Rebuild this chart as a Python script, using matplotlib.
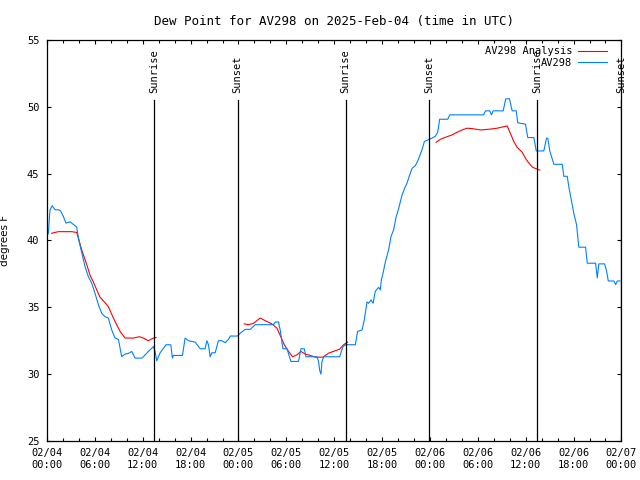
import numpy as np
import matplotlib
matplotlib.use("Agg")
import matplotlib.pyplot as plt

# hours since 2025-02-04 00:00 UTC
obs_hours = [0.16, 0.38, 0.66, 1.0, 1.42, 1.72, 2.05, 2.38, 2.89, 3.3, 3.73, 3.93, 4.35, 4.77,
             5.18, 5.61, 6.02, 6.44, 6.86, 7.28, 7.69, 8.12, 8.53, 8.95, 9.37, 9.79, 10.2, 10.63,
             11.04, 11.88, 12.08, 12.71, 13.34, 13.55, 13.76, 14.18, 14.93, 15.52, 15.72, 15.85,
             16.98, 17.31, 17.73, 18.57, 19.2, 19.82, 20.04, 20.24, 20.45, 20.66, 21.08, 21.49,
             21.92, 22.33, 22.75, 22.96, 23.88, 24.22, 24.84, 25.47, 26.1, 28.39, 28.61, 29.02,
             29.23, 29.57, 30.08, 30.58, 31.53, 31.83, 32.25, 32.46, 33.84, 34.04, 34.17, 34.34,
             34.47, 34.67, 36.68, 37.1, 37.39, 38.65, 38.93, 39.49, 39.77, 40.11, 40.31, 40.61,
             40.87, 41.15, 41.57, 41.78, 41.91, 42.12, 42.41, 42.82, 43.12, 43.45, 43.75, 44.08,
             44.5, 44.83, 45.13, 45.46, 45.76, 46.17, 46.51, 47.01, 47.3, 47.64, 48.06, 48.68,
             48.97, 49.22, 50.23, 50.48, 54.74, 54.96, 55.49, 55.71, 55.92, 57.18, 57.5, 57.97,
             58.3, 58.81, 59.01, 59.97, 60.26, 61.02, 61.32, 62.27, 62.61, 62.77, 63.02, 63.53,
             64.58, 64.78, 65.21, 65.41, 65.83, 66.04, 66.37, 66.66, 67.5, 67.72, 68.76, 68.97,
             69.17, 69.89, 70.14, 70.35, 71.05, 71.27, 71.48, 71.81]
obs_dewpt = [40.5, 42.3, 42.6, 42.3, 42.3, 42.2, 41.8, 41.3, 41.4, 41.2, 41.0, 40.2, 39.1, 38.05,
             37.3, 36.8, 36.05, 35.2, 34.55, 34.3, 34.2, 33.3, 32.7, 32.6, 31.3, 31.5, 31.55, 31.7,
             31.2, 31.2, 31.3, 31.7, 32.06, 31.7, 31.0, 31.6, 32.2, 32.2, 31.2, 31.4,
             31.4, 32.7, 32.5, 32.4, 31.9, 31.9, 32.5, 32.2, 31.3, 31.6, 31.6, 32.5,
             32.5, 32.35, 32.6, 32.85, 32.85, 33.06, 33.35, 33.35, 33.7, 33.7, 33.9, 33.9,
             33.3, 31.9, 31.9, 30.95, 30.95, 31.9, 31.9, 31.3, 31.3, 30.95, 30.3, 30.0,
             30.95, 31.3, 31.3, 32.06, 32.2, 32.2, 33.2, 33.3, 34.06, 35.4, 35.3, 35.55,
             35.3, 36.2, 36.5, 36.3, 37.05, 37.55, 38.4, 39.3, 40.3, 40.8, 41.74, 42.4,
             43.4, 43.9, 44.3, 44.9, 45.4, 45.6, 46.0, 46.8, 47.4, 47.5, 47.6, 47.8,
             48.1, 49.07, 49.07, 49.4, 49.4, 49.7, 49.7, 49.4, 49.7, 49.7, 50.6, 50.6,
             49.7, 49.7, 48.8, 48.7, 47.7, 47.7, 46.7, 46.7, 47.65, 47.65, 46.7, 45.7,
             45.7, 44.8, 44.8, 44.0, 42.66, 42.0, 41.2, 39.5, 39.5, 38.3, 38.3, 37.2,
             38.25, 38.25, 37.7, 36.97, 36.97, 36.7, 36.97, 36.97]

# analysis (nan = no analysis during night)
ana_hours = [0.59, 1.42, 3.1, 3.73, 3.93, 4.35, 4.98, 5.4, 5.81, 6.24, 6.65, 7.28, 7.69, 8.32,
             9.16, 9.79, 10.83, 11.58, 12.08, 12.71, 13.34, 13.68, 19.0,
             24.72, 25.26, 25.88, 26.73, 27.35, 28.19, 28.82, 29.23, 29.74, 30.28, 30.78, 31.33,
             31.83, 32.37, 33.0, 33.63, 34.59, 35.3, 35.92, 36.68, 37.18, 37.68, 43.0,
             48.77, 49.31, 49.94, 50.78, 51.41, 52.03, 52.66, 53.29, 54.33, 55.37, 56.42, 57.68,
             58.09, 58.51, 58.93, 59.56, 59.97, 60.39, 60.81, 61.44, 61.77]
ana_dewpt = [40.54, 40.66, 40.66, 40.6, 40.2, 39.3, 38.2, 37.4, 36.9, 36.3, 35.75, 35.35, 35.05, 34.2,
             33.2, 32.7, 32.7, 32.8, 32.7, 32.5, 32.7, 32.74, np.nan,
             33.76, 33.7, 33.8, 34.2, 34.0, 33.76, 33.44, 32.9, 32.2, 31.7, 31.3, 31.44,
             31.7, 31.5, 31.4, 31.27, 31.27, 31.57, 31.7, 31.87, 32.2, 32.4, np.nan,
             47.35, 47.57, 47.72, 47.9, 48.1, 48.27, 48.4, 48.37, 48.27, 48.32, 48.4, 48.57,
             48.0, 47.4, 46.97, 46.6, 46.15, 45.8, 45.5, 45.33, 45.27]

sunrise = [13.45, 37.43, 61.42]
sunset = [23.88, 47.92, 71.95]

tick_hours = list(range(0, 73, 6))
tick_labels = ["02/04\n00:00", "02/04\n06:00", "02/04\n12:00", "02/04\n18:00",
               "02/05\n00:00", "02/05\n06:00", "02/05\n12:00", "02/05\n18:00",
               "02/06\n00:00", "02/06\n06:00", "02/06\n12:00", "02/06\n18:00",
               "02/07\n00:00"]

plt.rcParams['font.family'] = ['DejaVu Sans Mono']
plt.rcParams['font.size'] = 7.5

fig = plt.figure(figsize=(6.4, 4.8), dpi=100)
ax = fig.add_axes([0.0734, 0.0813, 0.8976, 0.8354])

ax.plot(ana_hours, ana_dewpt, color='#ff0000', lw=0.8, label='AV298 Analysis')
ax.plot(obs_hours, obs_dewpt, color='#0080ff', lw=0.8, label='AV298')

for h in sunrise:
    ax.axvline(h, ymax=0.85, color='black', lw=0.9)
    ax.text(h, 51.05, 'Sunrise', rotation=90, ha='center', va='bottom')
for h in sunset:
    ax.axvline(h, ymax=0.85, color='black', lw=0.9)
    ax.text(h, 51.05, 'Sunset', rotation=90, ha='center', va='bottom')

ax.set_xlim(0, 72)
ax.set_ylim(25, 55)
ax.set_xticks(tick_hours)
ax.set_xticklabels(tick_labels)
ax.set_xticks(range(0, 73, 2), minor=True)
ax.set_yticks(range(25, 56, 5))
ax.tick_params(which='both', direction='in', top=True, right=True, width=0.8)
ax.tick_params(which='major', length=3.2)
ax.tick_params(which='minor', length=2)
ax.tick_params(axis='x', pad=5)
ax.tick_params(axis='y', pad=5.5)
for s in ax.spines.values():
    s.set_linewidth(0.9)

ax.set_title('Dew Point for AV298 on 2025-Feb-04 (time in UTC)', pad=11)
ax.set_ylabel('degrees F', family='DejaVu Sans')
ax.yaxis.set_label_coords(-0.064, 0.5)

ax.legend(loc='upper right', markerfirst=False, frameon=False, handlelength=2.7,
          handletextpad=0.6, labelspacing=0.15, borderaxespad=0.2,
          bbox_to_anchor=(0.985, 1.0))

fig.savefig('out.png', dpi=100)
